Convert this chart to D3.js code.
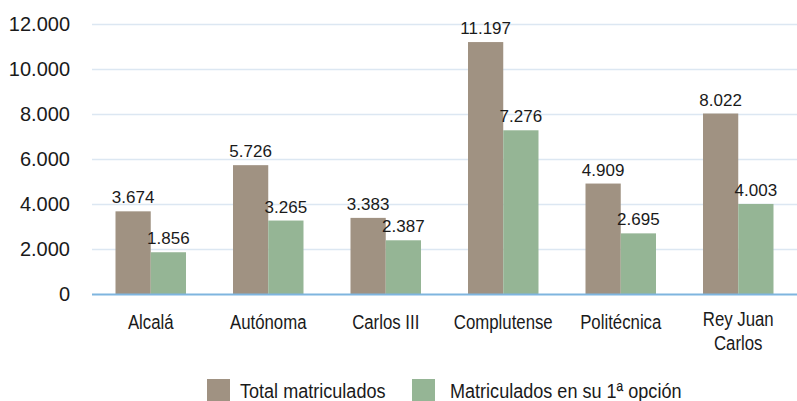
<!DOCTYPE html>
<html>
<head>
<meta charset="utf-8">
<script src="https://cdn.jsdelivr.net/npm/d3@7"></script>
<style>
  body { margin: 0; background: #fff; }
</style>
</head>
<body>
<svg width="797" height="401"></svg>
<script>
// data
let universities = ['Alcalá', 'Autónoma', 'Carlos III', 'Complutense', 'Politécnica', 'Rey Juan Carlos'];
let totalMatriculados = [3674, 5726, 3383, 11197, 4909, 8022];
let primeraOpcion = [1856, 3265, 2387, 7276, 2695, 4003];
let seriesNames = ['Total matriculados', 'Matriculados en su 1ª opción'];
let yTicks = [0, 2000, 4000, 6000, 8000, 10000, 12000];

let colors = ['#a09282', '#95b595'];
let font = '"Liberation Sans", Arial, sans-serif';

let svg = d3.select('svg'),
  margin = { top: 24, right: 0, bottom: 107, left: 92 },
  width = +svg.attr('width') - margin.left - margin.right,
  height = +svg.attr('height') - margin.top - margin.bottom,
  g = svg.append('g').attr('transform', `translate(${margin.left}, ${margin.top})`);

let fmt = d3.formatLocale({ decimal: ',', thousands: '.', grouping: [3], currency: ['', '€'] }).format(',d');

let x0 = d3.scaleBand()
  .domain(universities)
  .range([0, width])
  .paddingInner(0.4)
  .paddingOuter(0.2);

let x1 = d3.scaleBand()
  .domain(seriesNames)
  .range([0, x0.bandwidth()]);

let y = d3.scaleLinear()
  .domain([0, 12000])
  .range([height, 0]);

// gridlines
g.append('g')
  .selectAll('line')
  .data(yTicks.slice(1))
  .join('line')
  .attr('x1', 0)
  .attr('x2', width)
  .attr('y1', d => y(d) + 0.5)
  .attr('y2', d => y(d) + 0.5)
  .attr('stroke', '#dce7f2')
  .attr('stroke-width', 1.5);

// y axis labels
let yAxis = g.append('g')
  .call(d3.axisLeft(y).tickValues(yTicks).tickFormat(fmt).tickSize(0).tickPadding(22));
yAxis.select('.domain').remove();
yAxis.selectAll('text')
  .attr('font-family', font)
  .attr('font-size', 20)
  .attr('fill', '#1a1a1a');

let rows = universities.map((u, i) => ({ u: u, vals: [totalMatriculados[i], primeraOpcion[i]] }));

let groups = g.append('g')
  .selectAll('g')
  .data(rows)
  .join('g')
  .attr('transform', d => `translate(${x0(d.u)},0)`);

groups.selectAll('rect')
  .data(d => d.vals.map((v, j) => ({ key: seriesNames[j], v: v, j: j })))
  .join('rect')
  .attr('x', d => x1(d.key))
  .attr('y', d => y(d.v))
  .attr('width', x1.bandwidth())
  .attr('height', d => height - y(d.v))
  .attr('fill', d => colors[d.j]);

groups.selectAll('text.val')
  .data(d => d.vals.map((v, j) => ({ key: seriesNames[j], v: v, j: j })))
  .join('text')
  .attr('class', 'val')
  .attr('x', d => x1(d.key) + x1.bandwidth() / 2)
  .attr('y', d => y(d.v) - 8)
  .attr('text-anchor', 'middle')
  .attr('font-family', font)
  .attr('font-size', 17)
  .attr('fill', '#1a1a1a')
  .text(d => fmt(d.v));

// x axis line
g.append('line')
  .attr('x1', 0)
  .attr('x2', width)
  .attr('y1', height + 0.5)
  .attr('y2', height + 0.5)
  .attr('stroke', '#7fb5df')
  .attr('stroke-width', 2);

// category labels (condensed look)
let catLabels = { 'Rey Juan Carlos': ['Rey Juan', 'Carlos'] };
g.append('g')
  .selectAll('text')
  .data(universities)
  .join('text')
  .attr('transform', d => `translate(${x0(d) + x0.bandwidth() / 2}, ${height + 35}) scale(0.8, 1)`)
  .attr('text-anchor', 'middle')
  .attr('font-family', font)
  .attr('font-size', 21)
  .attr('fill', '#1a1a1a')
  .each(function (d) {
    let lines = catLabels[d] || [d];
    d3.select(this).selectAll('tspan')
      .data(lines)
      .join('tspan')
      .attr('x', 0)
      .attr('dy', (l, i) => i === 0 ? (lines.length > 1 ? -3 : 0) : 24)
      .text(l => l);
  });

// legend
let legendX = [207, 412];
let legend = svg.append('g')
  .selectAll('g')
  .data(seriesNames)
  .join('g')
  .attr('transform', (d, i) => `translate(${legendX[i]}, 379)`);

legend.append('rect')
  .attr('width', 23)
  .attr('height', 22)
  .attr('fill', (d, i) => colors[i]);

legend.append('text')
  .attr('transform', (d, i) => `translate(${i === 0 ? 33 : 38}, 19) scale(0.86, 1)`)
  .attr('font-family', font)
  .attr('font-size', 21)
  .attr('fill', '#1a1a1a')
  .text(d => d);
</script>
</body>
</html>
